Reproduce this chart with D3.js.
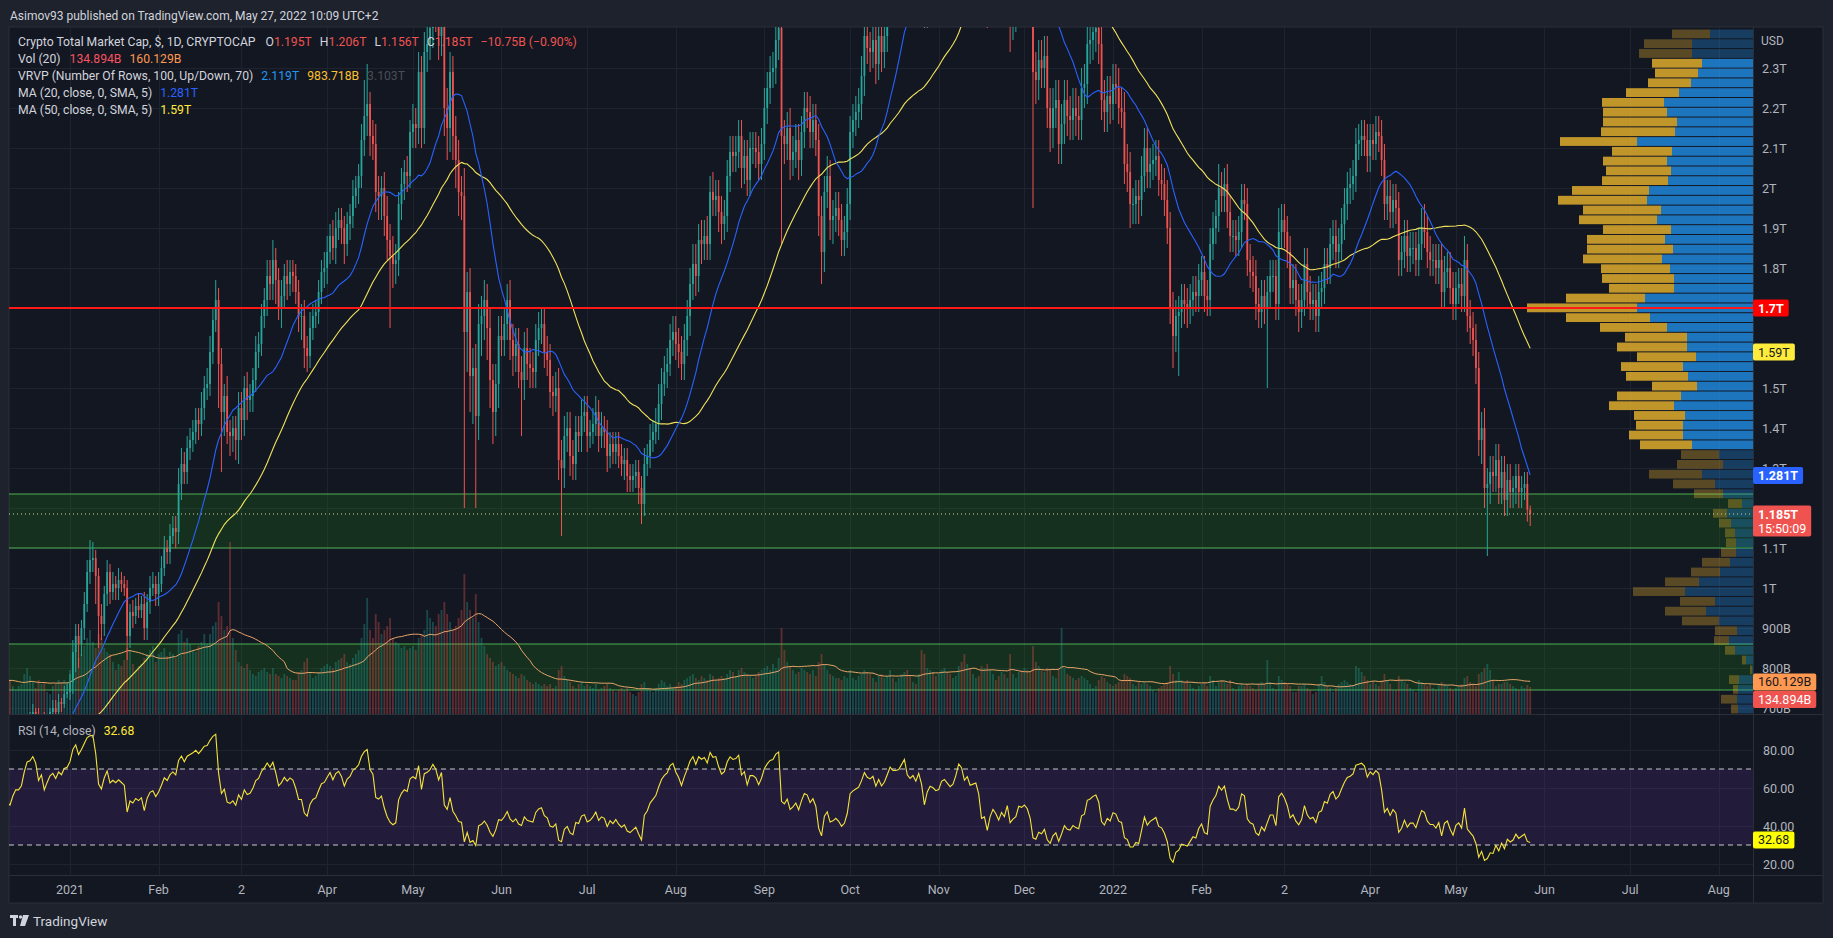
<!DOCTYPE html>
<html>
<head>
<meta charset="utf-8">
<script src="https://cdn.jsdelivr.net/npm/d3@7"></script>
<style>
  body { margin: 0; background: #1e222d; }
  svg { display: block; font-family: Roboto, "Noto Sans", sans-serif; }
</style>
</head>
<body>
<svg id="chart" width="1833" height="938"></svg>
<script>
// ── Data (daily, from 2020-10-22; values in B of USD) ─────────────────────
const firstDay = Date.UTC(2020, 9, 22);

const closes = [
  // Oct 2020 (22-31)
  402,400,405,403,395,410,398,400,405,400,
  // Nov 2020
  405,395,405,415,450,460,440,455,450,452, 462,468,470,462,458,472,490,500,505,525, 555,545,575,585,560,515,520,545,560,590,
  // Dec 2020
  560,572,580,560,572,578,570,545,555,545, 540,560,575,575,585,625,665,670,690,680, 650,670,640,665,690,700,690,715,710,735, 740,
  // Jan 2021
  765,840,880,860,900,960,1040,1070,1075,1030, 930,910,985,1040,990,1010,1000,1020,1010,1000, 880,940,930,955,945,960,900,965,1000,1010, 985,
  // Feb 2021
  1010,1050,1100,1090,1130,1150,1140,1260,1310,1290, 1350,1370,1390,1420,1410,1450,1500,1510,1590,1670, 1720,1560,1440,1480,1390,1380,1400,1370,
  // Mar 2021
  1450,1420,1500,1470,1480,1520,1590,1610,1680,1720, 1780,1760,1820,1770,1700,1730,1780,1760,1790,1780, 1740,1680,1680,1600,1580,1650,1680,1690,1740,1790, 1800,
  // Apr 2021
  1840,1880,1850,1900,1920,1900,1860,1910,1930,1980, 2000,2030,2120,2180,2210,2130,2110,1990,1980,2000, 1930,1870,1830,1810,1820,1960,2010,2040,2030,2140,
  // May 2021
  2160,2150,2290,2150,2340,2360,2400,2480,2450,2380, 2480,2200,2150,2290,2130,2070,1990,1980,1640,1740, 1530,1550,1430,1660,1680,1720,1650,1520,1440,1510, 1630,
  // Jun 2021
  1620,1660,1720,1620,1580,1610,1540,1520,1600,1560, 1550,1540,1620,1650,1660,1590,1570,1490,1480,1500, 1320,1300,1380,1400,1330,1310,1390,1380,1430,1440,
  // Jul 2021
  1380,1390,1410,1440,1380,1400,1390,1330,1360,1340, 1360,1330,1310,1320,1280,1270,1280,1290,1250,1210, 1310,1330,1370,1390,1410,1460,1510,1540,1560,1620, 1640,
  // Aug 2021
  1610,1590,1560,1620,1680,1760,1810,1780,1870,1860, 1880,1860,1990,1970,1980,1940,1910,1930,2030,2090, 2080,2090,2130,2050,2080,2020,2100,2100,2090,2060, 2110,
  // Sep 2021
  2200,2250,2290,2300,2370,2400,2130,2110,2150,2070, 2090,2120,2070,2140,2200,2190,2140,2170,2120,1930, 1840,1990,2030,1920,1930,1950,1920,1870,1890,1960,
  // Oct 2021
  2140,2170,2190,2210,2280,2380,2350,2340,2370,2310, 2380,2340,2380,2460,2560,2540,2540,2550,2610,2680, 2600,2580,2610,2580,2660,2600,2460,2580,2640,2630, 2610,
  // Nov 2021
  2620,2700,2720,2700,2680,2700,2780,2920,2900,2830, 2870,2820,2830,2840,2780,2600,2610,2480,2580,2640, 2600,2540,2600,2560,2650,2480,2510,2530,2620,2610,
  // Dec 2021
  2630,2600,2520,2290,2270,2320,2300,2330,2200,2150, 2200,2220,2110,2160,2220,2180,2170,2200,2180,2170, 2250,2260,2360,2370,2390,2400,2360,2220,2190,2230, 2210,
  // Jan 2022
  2260,2250,2200,2190,2060,2040,1960,1960,1980,1970, 2030,2100,2040,2060,2070,2080,2020,2010,1970,1900, 1700,1630,1680,1690,1720,1710,1700,1720,1740,1730, 1770,
  // Feb 2022
  1790,1730,1720,1860,1900,1930,2000,1980,2010,1940, 1880,1880,1870,1890,1970,1960,1820,1790,1780,1710, 1690,1730,1700,1740,1780,1780,1710,1890,
  // Mar 2022
  1920,1890,1840,1750,1770,1720,1690,1720,1810,1740, 1710,1720,1680,1740,1750,1810,1800,1860,1880,1840, 1860,1910,1960,2000,2010,2030,2110,2120,2130,2120, 2080,
  // Apr 2022
  2120,2110,2140,2130,2070,1960,1980,1940,1970,1950, 1820,1840,1880,1830,1850,1850,1820,1860,1900,1890, 1840,1820,1820,1800,1820,1740,1790,1800,1750,1710,
  // May 2022 (1-27)
  1750,1760,1730,1820,1680,1650,1620,1550,1370,1400, 1250,1260,1290,1280,1320,1250,1290,1220,1270,1240, 1250,1280,1240,1250,1260,1196,1185
];

// upper / lower wick beyond the body, in units of 10B
const wickHi = [
  1,1,1,1,1,1,1,1,1,1,
  1,1,1,2,2,2,2,1,1,1, 1,1,1,1,1,2,2,1,1,2, 2,2,2,2,1,1,1,1,2,1,
  2,1,1,1,1,1,1,1,1,1, 1,1,1,1,1,2,2,2,2,1, 2,1,2,1,1,2,2,2,1,2, 2,
  2,3,3,3,2,3,3,5,4,2, 2,3,2,3,2,3,2,3,2,2, 2,2,3,2,3,2,3,2,3,3, 2,
  3,3,3,2,3,3,3,4,4,3, 3,3,3,3,3,4,3,4,4,3, 5,3,4,3,5,3,3,3,
  4,4,3,4,3,3,4,3,3,3, 4,4,5,3,3,4,3,4,3,3, 3,3,3,4,3,4,3,3,3,3, 4,
  4,3,4,4,3,3,3,3,3,4, 3,3,4,9,10,3,4,5,4,3, 4,5,4,5,4,3,4,3,4,3,
  5,4,5,4,5,5,6,6,5,6, 5,6,5,5,4,5,5,4,7,5, 6,5,6,5,5,5,4,5,4,5, 5,
  5,4,4,5,4,4,4,4,4,5, 4,4,4,4,4,4,4,4,4,4, 5,5,5,4,4,4,4,4,4,4,
  4,3,4,4,3,4,3,3,3,3, 3,3,3,3,3,3,3,3,3,3, 4,3,4,3,4,5,4,4,4,4, 4,
  4,4,4,4,4,4,5,5,4,5, 4,5,4,5,4,4,4,4,4,4, 4,4,4,4,4,4,4,4,4,4, 4,
  5,4,4,4,5,5,5,4,4,5, 4,4,4,4,4,4,4,4,4,4, 5,4,5,4,4,4,4,4,4,4,
  4,4,4,4,5,5,5,4,4,5, 5,5,5,5,5,5,5,5,5,5, 5,5,5,5,5,5,5,5,5,5, 5,
  5,5,5,5,5,5,5,6,6,6, 6,5,5,5,5,5,5,5,5,5, 5,5,5,5,5,5,5,5,5,5,
  5,5,5,5,5,5,5,5,5,5, 5,5,5,5,5,5,5,5,5,5, 5,5,5,5,5,5,5,5,5,5, 5,
  5,5,5,5,5,5,5,4,4,4, 5,5,5,4,4,4,4,4,4,5, 4,4,4,4,4,4,4,4,4,4, 4,
  4,4,4,4,4,4,6,4,4,5, 4,4,4,4,4,4,4,4,4,4, 4,4,4,4,4,4,4,6,
  4,4,4,4,4,4,4,4,4,4, 4,4,4,4,4,4,4,4,4,4, 4,4,4,4,4,4,4,4,4,4, 4,
  4,4,4,4,4,4,4,4,4,4, 4,4,4,4,4,4,4,4,5,6, 4,4,4,4,4,4,4,4,4,4,
  4,4,4,6,4,4,4,4,4,4, 5,4,4,4,4,4,4,4,4,4, 3,3,3,3,3,3,1
];
const wickLo = [
  1,1,1,1,1,1,1,1,1,1,
  1,1,1,1,1,2,2,1,2,1, 1,1,1,1,1,1,1,1,1,1, 2,2,1,1,2,3,2,1,1,1,
  2,1,1,2,1,1,1,2,1,1, 1,1,1,1,1,1,1,2,1,2, 3,2,3,1,1,2,3,1,2,1, 1,
  2,3,5,6,3,3,2,3,3,7, 8,4,3,3,3,2,3,3,2,2, 6,3,3,2,2,2,3,3,3,2, 3,
  3,2,2,3,3,2,4,3,4,3, 3,3,3,3,4,3,3,3,3,3, 3,11,15,6,3,5,4,5,
  6,5,4,5,3,4,3,4,3,3, 4,4,4,6,3,5,3,4,3,4, 3,4,6,5,4,3,3,3,3,3, 4,
  4,3,3,4,3,4,5,3,4,3, 3,4,3,4,5,5,4,5,6,6, 5,5,18,6,5,4,4,4,4,3,
  4,5,4,5,4,5,4,5,6,6, 5,7,8,6,6,7,6,6,44,10, 9,12,23,6,8,6,8,7,8,6, 6,
  4,4,4,5,5,4,4,14,5,4, 5,4,4,4,4,4,4,4,5,4, 5,17,5,4,5,4,4,4,4,4,
  4,3,3,3,4,3,4,4,3,3, 3,3,3,4,4,3,3,3,4,5, 3,3,3,3,3,4,4,3,4,3, 4,
  4,4,4,4,4,5,4,5,4,5, 4,4,4,4,4,5,5,4,4,4, 4,4,4,5,4,4,4,4,4,4, 4,
  4,4,4,4,4,5,27,5,4,5, 4,4,5,4,4,4,4,4,4,5, 8,5,4,5,6,4,4,4,4,4,
  4,4,4,4,4,5,4,5,4,5, 4,5,4,4,5,5,5,5,5,5, 6,5,5,5,5,5,6,6,5,5, 5,
  5,5,5,5,5,5,5,5,5,6, 6,5,5,5,5,6,5,8,5,5, 5,5,5,5,5,14,11,12,5,5,
  5,5,5,34,6,5,5,5,5,6, 5,5,5,5,5,5,5,5,5,5, 5,5,5,5,5,5,5,5,5,5, 5,
  4,4,4,4,5,5,6,5,5,6, 4,4,4,4,4,4,4,4,4,4, 4,8,4,15,4,5,5,4,4,4, 4,
  4,4,4,4,4,4,4,4,4,4, 4,4,4,4,4,4,4,4,4,4, 4,4,4,20,4,4,4,4,
  4,4,4,4,4,4,5,4,4,4, 4,4,4,4,4,4,4,4,4,4, 4,4,4,4,4,4,4,4,4,4, 4,
  4,4,4,4,4,4,4,4,4,4, 4,4,4,4,4,4,4,4,4,4, 4,4,4,4,4,4,4,4,4,4,
  4,4,4,4,4,4,4,4,4,6, 5,17,5,4,4,4,4,4,4,4, 4,4,4,4,3,3,3
];

const volumes = [
  120,130,110,100,140,150,140,130,120,110,
  120,140,150,160,170,180,150,120,160,150, 150,140,130,120,110,140,170,180,170,160, 150,140,180,200,210,230,180,140,150,190,
  200,170,160,150,130,120,160,170,150,160, 170,140,120,140,150,200,230,190,160,130, 170,150,160,110,100,140,150,170,160,170, 160,
  220,300,320,280,300,340,380,420,360,330, 400,380,330,310,300,260,220,250,240,270, 330,320,250,220,240,250,280,300,320,340, 260,
  300,310,330,290,310,300,280,400,420,360, 380,350,320,310,340,360,400,350,400,440, 460,560,490,420,440,860,380,320,
  260,240,230,250,220,200,190,210,220,230, 210,200,230,200,190,180,200,190,180,170, 170,210,220,260,280,210,180,190,210,230, 240,
  250,240,230,260,270,280,300,260,250,280, 300,320,380,450,580,420,380,500,460,400, 420,440,480,380,360,350,330,340,320,330,
  340,320,380,400,420,520,480,460,440,500, 520,560,500,460,420,440,480,520,700,560, 520,480,600,460,380,340,300,280,260,240, 250,
  260,240,220,210,200,190,180,200,190,170, 160,150,160,150,140,150,140,150,130,140, 220,240,190,170,160,140,130,150,160,140,
  150,140,130,150,120,130,140,150,130,120, 110,120,130,120,130,110,100,90,110,150, 160,130,120,110,130,150,170,160,140,150, 130,
  140,160,150,170,180,190,200,180,170,190, 180,170,200,190,170,180,190,180,200,220, 210,190,220,230,210,200,190,180,190,210, 220,
  230,240,220,250,230,280,430,320,260,240, 220,200,210,230,220,210,200,220,190,260, 300,250,220,200,190,180,180,170,190,180,
  220,180,170,190,200,220,210,200,180,160, 190,200,180,190,220,180,160,180,200,210, 220,190,160,150,200,320,300,230,220,210, 190,
  200,220,230,210,200,180,190,240,260,300, 250,230,200,180,190,240,230,250,220,200, 170,190,210,200,180,300,200,180,210,220,
  230,220,210,340,260,240,220,210,230,220, 190,180,230,430,230,200,190,180,170,180, 190,180,170,150,130,140,170,190,180,160, 150,
  140,150,160,170,200,190,180,150,140,160, 150,160,150,140,120,110,130,140,150,160, 240,200,170,210,170,160,170,150,130,120, 140,
  150,160,140,190,170,140,160,170,160,150, 170,130,120,140,150,140,150,140,130,120, 150,160,150,270,160,130,120,190,
  170,160,150,140,110,110,140,140,150,130, 120,100,110,150,190,160,140,130,110,130, 150,160,170,160,150,140,240,230,210,190, 170,
  150,160,150,140,170,200,170,150,120,120, 190,170,160,150,130,120,110,170,160,150, 140,150,130,120,150,160,150,140,130,120,
  130,140,150,180,190,160,150,140,200,210, 230,250,220,170,140,150,150,160,160,150, 140,130,120,140,130,145,135
];

// Visible-range volume profile (70 rows, top → bottom), up / down volume
const vpTop = 2397.5, vpStep = 24.46;
const vpUp = [43,61,61,51,55,62,74,89,86,76, 78,116,81,86,82,85,104,106,92,96,
  82,88,80,91,83,79,79,108,116,103, 86,66,66,57,70,65,56,72,79,68,
  70,70,61,34,30,51,38,30,11,26, 22,18,17,17,23,33,54,68,38,47,
  34,16,24,18,7,1,14,15,16,15];
const vpDown = [38,48,53,50,43,43,53,62,64,74, 74,77,60,64,65,66,77,89,78,78,
  68,78,86,79,69,72,65,79,110,84, 67,62,70,59,62,62,45,64,65,51,
  47,54,52,38,46,53,42,29,14,14, 12,10,10,15,28,29,34,52,35,41,
  37,22,15,10,4,2,10,5,16,7];
const vpValueArea = [3, 42];   // first / last row index inside the 70% value area

// User drawings
const zones = [[1235, 1100], [860, 745]];
const hLine = 1700;

// Last indicator readings (from the legend)
const lastClose = 1185, lastMa20 = 1281, lastMa50 = 1590, lastVolMa = 160.129, lastVol = 134.894, lastRsi = 32.68;

// tick labels hidden behind the price tags are left out
const priceTicks = [700, 800, 900, 1000, 1100, 1300, 1400, 1500, 1800, 1900, 2000, 2100, 2200, 2300];
const gridPrices = [700, 800, 900, 1000, 1100, 1200, 1300, 1400, 1500, 1600, 1700, 1800, 1900, 2000, 2100, 2200, 2300];
const rsiTicks = [20, 40, 60, 80];
const timeTicks = [
  ["2021", "2021-01-01"], ["Feb", "2021-02-01"], ["2", "2021-03-02"], ["Apr", "2021-04-01"],
  ["May", "2021-05-01"], ["Jun", "2021-06-01"], ["Jul", "2021-07-01"], ["Aug", "2021-08-01"],
  ["Sep", "2021-09-01"], ["Oct", "2021-10-01"], ["Nov", "2021-11-01"], ["Dec", "2021-12-01"],
  ["2022", "2022-01-01"], ["Feb", "2022-02-01"], ["2", "2022-03-02"], ["Apr", "2022-04-01"],
  ["May", "2022-05-01"], ["Jun", "2022-06-01"], ["Jul", "2022-07-01"], ["Aug", "2022-08-01"]
];

// ── Derived series ────────────────────────────────────────────────────────
const candles = closes.map((c, i) => {
  const o = i ? closes[i - 1] : c;
  return {
    date: new Date(firstDay + i * 864e5),
    o, c,
    h: Math.max(o, c) + wickHi[i] * 10,
    l: Math.min(o, c) - wickLo[i] * 10,
    v: volumes[i]
  };
});

function sma(arr, n) {
  return arr.map((_, i) => i < n - 1 ? null : d3.mean(arr.slice(i - n + 1, i + 1)));
}
function rsi(arr, n) {
  const out = arr.map(() => null);
  let up = 0, dn = 0;
  for (let i = 1; i < arr.length; i++) {
    const ch = arr[i] - arr[i - 1];
    const g = Math.max(ch, 0), l = Math.max(-ch, 0);
    if (i <= n) { up += g / n; dn += l / n; }
    else { up = (up * (n - 1) + g) / n; dn = (dn * (n - 1) + l) / n; }
    if (i >= n) out[i] = dn === 0 ? 100 : 100 - 100 / (1 + up / dn);
  }
  return out;
}
const ma20 = sma(closes, 20), ma50 = sma(closes, 50), volMa = sma(volumes, 20), rsi14 = rsi(closes, 14);

// ── Layout ────────────────────────────────────────────────────────────────
const L = 9, R = 1823, AX = 1753, T = 27, MB = 714, RB = 875, B = 903;
const svg = d3.select("#chart");

const x = d3.scaleUtc()
  .domain([new Date(Date.UTC(2021, 0, 1)), new Date(Date.UTC(2022, 0, 1))])
  .range([70, 1113]);
const y = d3.scaleLinear().domain([700, 2300]).range([708, 68]);
const yVol = d3.scaleLinear().domain([0, 1000]).range([MB, 514]);
const yRsi = d3.scaleLinear().domain([20, 80]).range([864, 750]);
const vpW = d3.scaleLinear().domain([0, 226]).range([0, 226]);

svg.append("rect").attr("width", 1833).attr("height", 938).attr("fill", "#1e222d");
svg.append("rect").attr("x", L).attr("y", T).attr("width", R - L).attr("height", B - T)
  .attr("fill", "#131722").attr("stroke", "#2a2e39");

const defs = svg.append("defs");
defs.append("clipPath").attr("id", "clipMain").append("rect")
  .attr("x", L).attr("y", T).attr("width", AX - L).attr("height", MB - T);
defs.append("clipPath").attr("id", "clipRsi").append("rect")
  .attr("x", L).attr("y", MB).attr("width", AX - L).attr("height", RB - MB);

// grid
const grid = svg.append("g").attr("stroke", "#1f2330").attr("stroke-width", 1);
timeTicks.forEach(([, d]) => {
  const xx = Math.round(x(new Date(d + "T00:00:00Z"))) + 0.5;
  grid.append("line").attr("x1", xx).attr("x2", xx).attr("y1", T).attr("y2", RB);
});
gridPrices.forEach(p => {
  const yy = Math.round(y(p)) + 0.5;
  grid.append("line").attr("x1", L).attr("x2", AX).attr("y1", yy).attr("y2", yy);
});
rsiTicks.forEach(r => {
  const yy = Math.round(yRsi(r)) + 0.5;
  grid.append("line").attr("x1", L).attr("x2", AX).attr("y1", yy).attr("y2", yy);
});

// ── Main pane ─────────────────────────────────────────────────────────────
const main = svg.append("g").attr("clip-path", "url(#clipMain)");

// zones
zones.forEach(([hi, lo]) => {
  main.append("rect").attr("x", L).attr("width", AX - L)
    .attr("y", y(hi)).attr("height", y(lo) - y(hi))
    .attr("fill", "rgba(30,140,20,0.22)");
  [hi, lo].forEach(p => main.append("line").attr("x1", L).attr("x2", AX)
    .attr("y1", y(p)).attr("y2", y(p)).attr("stroke", "#4caf50").attr("stroke-width", 1));
});

// header + legend (drawn beneath the candles)
svg.append("text").attr("x", 10).attr("y", 19.5).attr("fill", "#d1d4dc").style("font-size", "12px")
  .text("Asimov93 published on TradingView.com, May 27, 2022 10:09 UTC+2");

const legendLines = [
  [["Crypto Total Market Cap, $, 1D, CRYPTOCAP", "#d1d4dc", 0], ["O", "#d1d4dc", 10], ["1.195T", "#ef5350", 0],
   ["H", "#d1d4dc", 8], ["1.206T", "#ef5350", 0], ["L", "#d1d4dc", 8], ["1.156T", "#ef5350", 0],
   ["C", "#d1d4dc", 8], ["1.185T", "#ef5350", 0], ["\u221210.75B (\u22120.90%)", "#ef5350", 8]],
  [["Vol (20)", "#d1d4dc", 0], ["134.894B", "#f7525f", 9], ["160.129B", "#ff9850", 8]],
  [["VRVP (Number Of Rows, 100, Up/Down, 70)", "#d1d4dc", 0], ["2.119T", "#2196f3", 8], ["983.718B", "#fbc02d", 8], ["3.103T", "#4a4d56", 8]],
  [["MA (20, close, 0, SMA, 5)", "#d1d4dc", 0], ["1.281T", "#2962ff", 8]],
  [["MA (50, close, 0, SMA, 5)", "#d1d4dc", 0], ["1.59T", "#ffeb3b", 8]]
];
legendLines.forEach((parts, i) => {
  const t = svg.append("text").attr("x", 18).attr("y", 45.5 + i * 17).style("font-size", "12.2px");
  parts.forEach(([s, c, dx]) => t.append("tspan").attr("dx", dx).attr("fill", c).text(s));
});

// volume bars + MA
const xw = 1.8;
main.append("g").selectAll("rect").data(candles).join("rect")
  .attr("x", d => x(d.date) - xw / 2).attr("width", xw)
  .attr("y", d => yVol(d.v)).attr("height", d => MB - yVol(d.v))
  .attr("fill", d => d.c >= d.o ? "rgba(38,166,154,0.35)" : "rgba(239,83,80,0.35)");
main.append("path").datum(candles.map((d, i) => ({ date: d.date, v: volMa[i] })))
  .attr("fill", "none").attr("stroke", "#e8a46a").attr("stroke-width", 1)
  .attr("d", d3.line().defined(d => d.v != null).x(d => x(d.date)).y(d => yVol(d.v)));

// volume profile
const vpRows = vpUp.map((u, i) => ({ i, up: u, down: vpDown[i], inVA: i >= vpValueArea[0] && i <= vpValueArea[1] }));
const vp = main.append("g");
vpRows.forEach(r => {
  const top = y(vpTop - r.i * vpStep) + 0.5, h = y(vpTop - (r.i + 1) * vpStep) - y(vpTop - r.i * vpStep) - 1;
  const a = r.inVA ? 0.75 : 0.3;
  vp.append("rect").attr("x", AX - vpW(r.up)).attr("width", vpW(r.up)).attr("y", top).attr("height", h)
    .attr("fill", `rgba(33,150,243,${a})`);
  vp.append("rect").attr("x", AX - vpW(r.up) - vpW(r.down)).attr("width", vpW(r.down)).attr("y", top).attr("height", h)
    .attr("fill", `rgba(251,192,45,${a})`);
});

// candles
const cg = main.append("g");
cg.selectAll("line").data(candles).join("line")
  .attr("x1", d => x(d.date)).attr("x2", d => x(d.date))
  .attr("y1", d => y(d.h)).attr("y2", d => y(d.l))
  .attr("stroke", d => d.c >= d.o ? "#26a69a" : "#ef5350").attr("stroke-width", 1);
cg.selectAll("rect").data(candles).join("rect")
  .attr("x", d => x(d.date) - xw / 2).attr("width", xw)
  .attr("y", d => y(Math.max(d.o, d.c)))
  .attr("height", d => Math.max(1, Math.abs(y(d.o) - y(d.c))))
  .attr("fill", d => d.c >= d.o ? "#26a69a" : "#ef5350");

// moving averages
const maLine = d3.line().defined(d => d.v != null).x(d => x(d.date)).y(d => y(d.v));
main.append("path").datum(candles.map((d, i) => ({ date: d.date, v: ma50[i] })))
  .attr("fill", "none").attr("stroke", "#f2e35a").attr("stroke-width", 1.1).attr("d", maLine);
main.append("path").datum(candles.map((d, i) => ({ date: d.date, v: ma20[i] })))
  .attr("fill", "none").attr("stroke", "#2962ff").attr("stroke-width", 1.1).attr("d", maLine);

// horizontal level + last price line
main.append("line").attr("x1", L).attr("x2", AX).attr("y1", y(hLine)).attr("y2", y(hLine))
  .attr("stroke", "#ff1a1a").attr("stroke-width", 2);
main.append("line").attr("x1", L).attr("x2", AX).attr("y1", y(lastClose)).attr("y2", y(lastClose))
  .attr("stroke", "#d8cfa8").attr("stroke-width", 1).attr("stroke-dasharray", "1,3");

// ── RSI pane ──────────────────────────────────────────────────────────────
const rp = svg.append("g").attr("clip-path", "url(#clipRsi)");
rp.append("rect").attr("x", L).attr("width", AX - L).attr("y", yRsi(70)).attr("height", yRsi(30) - yRsi(70))
  .attr("fill", "rgba(120,60,200,0.15)");
[70, 30].forEach(v => rp.append("line").attr("x1", L).attr("x2", AX).attr("y1", yRsi(v)).attr("y2", yRsi(v))
  .attr("stroke", "#c8c9cc").attr("stroke-dasharray", "5,4").attr("stroke-width", 1));
rp.append("path").datum(candles.map((d, i) => ({ date: d.date, v: rsi14[i] })))
  .attr("fill", "none").attr("stroke", "#f5e33b").attr("stroke-width", 1.1)
  .attr("d", d3.line().defined(d => d.v != null).x(d => x(d.date)).y(d => yRsi(d.v)));

const rl = svg.append("text").attr("x", 18).attr("y", 734.5).style("font-size", "12.2px");
rl.append("tspan").attr("fill", "#b2b5be").text("RSI (14, close)");
rl.append("tspan").attr("dx", 8).attr("fill", "#ffeb3b").text("32.68");

// separators
const sep = svg.append("g").attr("stroke", "#2a2e39");
sep.append("line").attr("x1", L).attr("x2", R).attr("y1", MB + 0.5).attr("y2", MB + 0.5);
sep.append("line").attr("x1", L).attr("x2", R).attr("y1", RB + 0.5).attr("y2", RB + 0.5);
sep.append("line").attr("x1", AX + 0.5).attr("x2", AX + 0.5).attr("y1", T).attr("y2", B);

// ── Axes ──────────────────────────────────────────────────────────────────
const axisText = "#b2b5be";
const fmtP = p => p < 1000 ? p + "B" : (p / 1000) + "T";
svg.append("text").attr("x", 1761).attr("y", 45).attr("fill", axisText).style("font-size", "12px").text("USD");
const tickG = svg.append("g");
priceTicks.forEach(p => tickG.append("text").attr("x", 1762).attr("y", y(p) + 4.5)
  .attr("fill", axisText).style("font-size", "12.5px").text(fmtP(p)));
rsiTicks.forEach(r => svg.append("text").attr("x", 1763).attr("y", yRsi(r) + 4.5)
  .attr("fill", axisText).style("font-size", "12.5px").text(r.toFixed(2)));
timeTicks.forEach(([lab, d]) => svg.append("text").attr("x", x(new Date(d + "T00:00:00Z"))).attr("y", 893.5)
  .attr("text-anchor", "middle").attr("fill", axisText).style("font-size", "12.5px").text(lab));

// price tags
function tag(yy, lines, bg, fg, bold) {
  const h = 17 * lines.length - (lines.length - 1) * 3;
  const g = svg.append("g");
  const r = g.append("rect").attr("x", AX).attr("y", yy - 8.5).attr("height", h).attr("rx", 2).attr("fill", bg);
  let w = 0;
  lines.forEach((s, i) => {
    const t = g.append("text").attr("x", AX + 5).attr("y", yy + 4.5 + i * 14).attr("fill", fg)
      .style("font-size", "12.5px").style("font-weight", bold && i === 0 ? "700" : "400").text(s);
    w = Math.max(w, t.node().getComputedTextLength());
  });
  r.attr("width", w + 10);
}
tag(y(hLine), ["1.7T"], "#ff0000", "#ffffff", true);
tag(y(lastMa50), ["1.59T"], "#ffeb3b", "#131722", false);
tag(y(lastMa20), ["1.281T"], "#2962ff", "#ffffff", true);
tag(y(lastClose), ["1.185T", "15:50:09"], "#ef5350", "#ffffff", true);
const yv1 = yVol(lastVolMa), yv2 = Math.max(yVol(lastVol), yv1 + 17.5);
tag(yv1, ["160.129B"], "#ff9850", "#131722", false);
tag(yv2, ["134.894B"], "#ef5350", "#ffffff", false);
tag(yRsi(lastRsi), ["32.68"], "#ffff00", "#131722", false);

// footer logo
const logo = svg.append("g").attr("fill", "#d1d4dc");
logo.append("rect").attr("x", 10).attr("y", 915).attr("width", 8).attr("height", 3);
logo.append("rect").attr("x", 13).attr("y", 915).attr("width", 3).attr("height", 11);
logo.append("circle").attr("cx", 20.5).attr("cy", 917).attr("r", 1.7);
logo.append("path").attr("d", "M23,915 L29,915 L25,926 L20,926 Z");
svg.append("text").attr("x", 33).attr("y", 925.5).attr("fill", "#d1d4dc").style("font-size", "13.5px").text("TradingView");
</script>
</body>
</html>
